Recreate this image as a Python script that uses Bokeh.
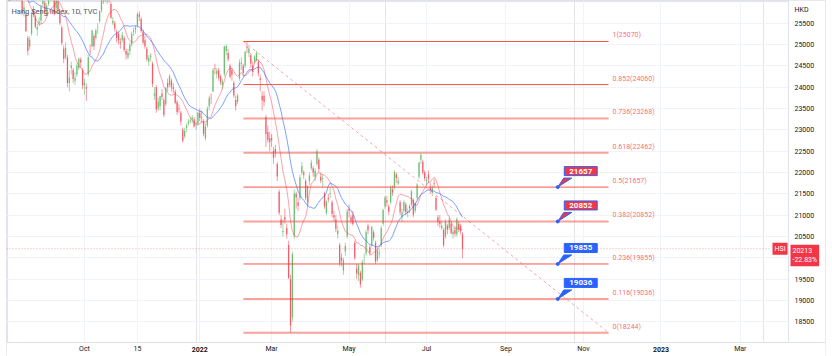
import pandas as pd
from bokeh.plotting import figure
from bokeh.models import Range1d, FixedTicker, Label, ColumnDataSource, LinearAxis, Grid
from bokeh.embed import file_html
from bokeh.resources import INLINE

# ---------------- data (daily bars, index 0 = 5 Aug 2021 ... 241 = 29 Jul 2022) -------------
prior_closes = [27153, 27344, 27515, 27788, 27962, 27997, 27996, 27489, 27259, 27224,
                27705, 27321, 26192, 25086, 25473, 26316, 25961, 26235, 26194, 26426]

opens = [26300, 26240, 26150, 26300, 26620, 26560, 26480, 26350, 26050, 25800,
         25700, 25150, 24950, 25250, 25800, 25650, 25350, 25500, 25560, 25950,
         25980, 25800, 25950, 26200, 26300, 26100, 25850, 26000, 25700, 25400,
         24900, 24700, 24700, 24100, 24450, 24400, 24150, 24300, 24450, 24650,
         24400, 24050, 24000, 24300, 24850, 24950, 25200, 25150, 25400, 25550,
         25800, 26100, 26100, 26050, 26150, 25950, 25500, 25500, 25300, 25250,
         25050, 25100, 25150, 24850, 24700, 24850, 25000, 25300, 25350, 25450,
         25700, 25600, 25300, 25100, 24900, 24600, 24700, 24550, 23800, 24000,
         23500, 23550, 23850, 23700, 23600, 24100, 24050, 24150, 24000, 23900,
         23650, 23500, 23400, 23000, 22850, 23050, 23150, 23200, 23250, 23250,
         23100, 23150, 23400, 23300, 23200, 22800, 23100, 23550, 23750, 23900,
         24450, 24300, 24400, 24250, 24050, 24300, 24850, 24800, 24500, 24400,
         24100, 23700, 23650, 24200, 24550, 24500, 24500, 24950, 24800, 24750,
         24500, 24600, 24650, 24600, 24200, 23800, 23800, 23300, 22950, 22800,
         22800, 22500, 22550, 22200, 21550, 20900, 20600, 20950, 20700, 20300,
         19500, 18600, 20500, 21500, 21300, 21400, 22000, 22000, 21800, 21300,
         21800, 22100, 22100, 21900, 22200, 22300, 21900, 21850, 21500, 21050,
         21400, 21500, 21300, 21000, 20900, 20550, 20300, 20000, 19700, 20150,
         20500, 21150, 20950, 21000, 20350, 19750, 19600, 19650, 19500, 19950,
         20100, 20750, 20250, 20300, 20600, 20350, 19950, 20100, 20300, 20800,
         21200, 21350, 21200, 21300, 21600, 21650, 21950, 21750, 21300, 20950,
         21100, 21250, 21050, 21200, 21250, 21350, 21100, 21400, 21900, 22300,
         22250, 22000, 21800, 21950, 21650, 21550, 21750, 21400, 20950, 20850,
         20700, 20650, 20500, 20750, 20700, 20800, 20550, 20650, 20550, 20800,
         20750, 20550]

highs = [26380, 26330, 26320, 26640, 26760, 26600, 26520, 26420, 26100, 26000,
         25760, 25200, 25190, 25760, 25900, 25700, 25480, 25640, 25930, 26130,
         26020, 25960, 26200, 26390, 26400, 26150, 26250, 26050, 25800, 25450,
         24980, 25050, 24750, 24390, 24600, 24450, 24350, 24560, 24700, 24700,
         24450, 24200, 24080, 24750, 25000, 25350, 25250, 25370, 25500, 25800,
         26150, 26200, 26230, 26200, 26250, 26000, 25650, 25550, 25350, 25300,
         25150, 25300, 25200, 24900, 24900, 25050, 25300, 25400, 25450, 25750,
         25780, 25650, 25350, 25200, 24950, 24750, 24800, 24600, 24000, 24050,
         23750, 23800, 23950, 23750, 24000, 24200, 24300, 24200, 24100, 23950,
         23700, 23600, 23450, 23050, 23050, 23150, 23250, 23300, 23350, 23300,
         23200, 23420, 23500, 23450, 23250, 23150, 23550, 23800, 23850, 24450,
         24550, 24450, 24450, 24300, 24200, 24970, 25000, 24900, 24550, 24450,
         24150, 23800, 23850, 24650, 24700, 24550, 24850, 25070, 24950, 24800,
         24600, 24750, 24850, 24650, 24300, 23900, 23900, 23350, 23100, 22950,
         22900, 22600, 22650, 22250, 21600, 21000, 20900, 21150, 20800, 20400,
         19600, 20150, 21600, 21550, 21400, 21950, 22250, 22050, 21850, 21700,
         22000, 22300, 22150, 22100, 22550, 22350, 22000, 21950, 21550, 21350,
         21500, 21650, 21350, 21100, 21000, 20750, 20350, 20100, 20000, 20350,
         21150, 21250, 21000, 21100, 20400, 19850, 19850, 19700, 19950, 20100,
         20650, 20800, 20300, 20750, 20650, 20400, 20250, 20200, 20750, 21150,
         21450, 21450, 21250, 21700, 21700, 22050, 22000, 21900, 21350, 21150,
         21350, 21300, 21150, 21250, 21600, 21400, 21300, 21750, 22250, 22450,
         22300, 22050, 21900, 22050, 21750, 21700, 21850, 21450, 21000, 21000,
         20850, 20700, 20900, 20800, 20950, 20850, 20700, 20750, 20950, 20850,
         20800, 20600]

lows = [26120, 26100, 26080, 26280, 26560, 26420, 26330, 26130, 25700, 25650,
        25290, 24748, 24880, 25200, 25640, 25380, 25200, 25420, 25480, 25900,
        25700, 25680, 25900, 26150, 26180, 25680, 25800, 25760, 25450, 24980,
        24560, 24650, 24000, 23900, 24300, 24100, 24050, 24240, 24400, 24450,
        23950, 23820, 23680, 24250, 24750, 24930, 24870, 25100, 25250, 25500,
        25750, 25950, 25990, 25950, 25980, 25600, 25450, 25300, 25050, 25000,
        24900, 25050, 24830, 24650, 24650, 24750, 24950, 25200, 25250, 25400,
        25550, 25280, 25000, 24900, 24600, 24500, 24600, 24000, 23700, 23400,
        23450, 23450, 23700, 23300, 23550, 23900, 24000, 23900, 23850, 23600,
        23350, 23400, 23100, 22700, 22800, 22950, 23100, 23150, 23150, 23050,
        23000, 23100, 23200, 23150, 22850, 22750, 23050, 23450, 23600, 23880,
        24300, 24200, 24150, 24050, 23950, 24250, 24750, 24600, 24200, 24150,
        23750, 23450, 23600, 24150, 24400, 24250, 24450, 24800, 24700, 24450,
        24250, 24550, 24600, 24250, 23900, 23450, 23550, 22600, 22700, 22500,
        22600, 22200, 22350, 21800, 21000, 20700, 20500, 20800, 20450, 19500,
        18244, 18500, 20450, 21150, 21100, 21350, 21950, 21850, 21350, 21200,
        21700, 22050, 21900, 21800, 22150, 22000, 21750, 21650, 21150, 21000,
        21300, 21400, 20950, 20850, 20600, 20450, 19800, 19800, 19600, 20050,
        20450, 20950, 20800, 20750, 19950, 19500, 19450, 19300, 19450, 19850,
        20050, 20550, 20050, 20250, 20400, 19850, 19900, 20000, 20250, 20750,
        21150, 21200, 21000, 21250, 21450, 21600, 21750, 21700, 21000, 20850,
        21050, 21000, 20950, 21050, 21200, 20950, 21050, 21350, 21850, 22200,
        21950, 21800, 21700, 21750, 21500, 21450, 21650, 21100, 20750, 20700,
        20650, 20250, 20450, 20550, 20650, 20550, 20450, 20500, 20500, 20600,
        20550, 19980]

closes = [26204, 26179, 26283, 26605, 26660, 26517, 26391, 26181, 25745, 25867,
          25316, 24849, 25109, 25727, 25693, 25415, 25407, 25539, 25879, 26028,
          25761, 25902, 26163, 26353, 26321, 25717, 26205, 25813, 25502, 25034,
          24668, 24920, 24099, 24221, 24510, 24192, 24208, 24500, 24663, 24576,
          24036, 24104, 23966, 24701, 24838, 25325, 24962, 25331, 25409, 25787,
          26136, 26017, 26126, 26132, 26038, 25628, 25555, 25377, 25154, 25100,
          25025, 25225, 24870, 24763, 24813, 24996, 25247, 25327, 25390, 25713,
          25650, 25319, 25049, 24951, 24652, 24685, 24740, 24080, 23852, 23475,
          23659, 23789, 23767, 23349, 23983, 23996, 24254, 23995, 23954, 23635,
          23420, 23475, 23193, 22744, 22971, 23102, 23193, 23224, 23280, 23086,
          23112, 23398, 23275, 23289, 22907, 23072, 23493, 23746, 23739, 24403,
          24430, 24383, 24218, 24113, 24127, 24952, 24966, 24656, 24244, 24290,
          23807, 23551, 23802, 24573, 24580, 24329, 24830, 24925, 24906, 24556,
          24355, 24718, 24792, 24328, 24170, 23690, 23660, 22902, 22767, 22713,
          22761, 22344, 22467, 21906, 21057, 20766, 20628, 20890, 20554, 19531,
          18415, 20088, 21501, 21412, 21222, 21889, 22154, 21946, 21405, 21684,
          21927, 22232, 21997, 22039, 22502, 22080, 21808, 21872, 21208, 21319,
          21374, 21518, 21027, 20945, 20682, 20638, 19869, 19934, 19946, 20276,
          21089, 21101, 20870, 20793, 20001, 19633, 19824, 19380, 19898, 19950,
          20602, 20644, 20120, 20717, 20470, 19912, 20171, 20116, 20697, 21123,
          21415, 21294, 21082, 21653, 21531, 22014, 21869, 21806, 21067, 21067,
          21308, 21075, 21075, 21163, 21559, 21008, 21273, 21719, 22229, 22418,
          21996, 21860, 21830, 21853, 21587, 21643, 21725, 21124, 20845, 20797,
          20751, 20297, 20846, 20661, 20890, 20575, 20610, 20563, 20906, 20670,
          20622, 20213]

fib_ratios = ["1", "0.852", "0.736", "0.618", "0.5", "0.382", "0.236", "0.116", "0"]
fib_levels = [25070, 24060, 23268, 22462, 21657, 20852, 19855, 19036, 18244]
fib_from_bar = 125.1
fib_to_bar = 318.3

callout_levels = [21657, 20852, 19855, 19036]
callout_kind = ["red", "red", "blue", "blue"]
callout_bar = 291.4

price_ticks = list(range(18500, 26000, 500))
time_ticks = [41, 69, 102, 140, 181, 222, 264, 305, 346, 388]
time_labels = ["Oct", "15", "2022", "Mar", "May", "Jul", "Sep", "Nov", "2023", "Mar"]
bold_labels = {"2022", "2023"}

symbol = "HSI"
last_price = 20213
last_change = "-22.83%"
title_text = "Hang Seng Index, 1D, TVC"
currency = "HKD"

# ---------------- layout (pixel geometry of the screenshot) ----------------
W, H = 832, 356
LEFT, RIGHT_EDGE = 6, 825          # frame spans the whole chart box incl. price column
AXIS_X, AXIS_Y = 788, 341.5        # price-axis line, time-axis line (pixels)
PX_PER_BAR = 1.89
PT_PER_PX = 23.44
X0 = -0.265
Y1 = 26031
XPP = 1.0 / PX_PER_BAR
YPP = PT_PER_PX
X1 = X0 + (RIGHT_EDGE - LEFT) * XPP
Y0 = Y1 - H * YPP


def sx(px):
    return X0 + (px - LEFT) * XPP


def sy(py):
    return Y1 - py * YPP


RED = "#f23645"
FIBRED = "#f44336"
GREEN = "#4caf50"
BLUE = "#2962ff"
FONT = "Roboto"
TXT = "#131722"
GRID = "#f0f3fa"
EDGE = "#e0e3eb"

p = figure(width=W, height=H, output_backend="svg", toolbar_location=None,
           x_range=Range1d(X0, X1), y_range=Range1d(Y0, Y1),
           x_axis_location=None, y_axis_location=None,
           min_border_left=LEFT, min_border_right=W - RIGHT_EDGE,
           min_border_top=0, min_border_bottom=0)
p.background_fill_color = "white"
p.border_fill_color = "white"
p.outline_line_color = EDGE

yticker = FixedTicker(ticks=price_ticks)
xticker = FixedTicker(ticks=time_ticks)
p.add_layout(Grid(dimension=0, ticker=xticker, grid_line_color=GRID))
p.add_layout(Grid(dimension=1, ticker=yticker, grid_line_color=GRID))

# white price column and time strip (hide grid there)
p.quad(left=sx(AXIS_X), right=X1, bottom=Y0, top=Y1, fill_color="white", line_color=None)
p.quad(left=X0, right=X1, bottom=Y0, top=sy(AXIS_Y), fill_color="white", line_color=None)

yaxis = LinearAxis(ticker=yticker, fixed_location=sx(AXIS_X), bounds=(sy(AXIS_Y), Y1),
                   major_tick_line_color=None, minor_tick_line_color=None,
                   major_tick_out=0, major_tick_in=0, minor_tick_out=0, minor_tick_in=0,
                   axis_line_color=EDGE, major_label_text_font_size="7px",
                   major_label_text_font=FONT, major_label_text_color=TXT,
                   major_label_standoff=6)
p.add_layout(yaxis, "right")
xaxis = LinearAxis(ticker=xticker, fixed_location=sy(AXIS_Y),
                   major_label_overrides={t: ("" if l in bold_labels else l)
                                          for t, l in zip(time_ticks, time_labels)},
                   major_tick_line_color=None, minor_tick_line_color=None,
                   major_tick_out=0, major_tick_in=0, minor_tick_out=0, minor_tick_in=0,
                   axis_line_color=EDGE, major_label_text_font_size="7px",
                   major_label_text_font=FONT, major_label_text_color=TXT,
                   major_label_standoff=3)
p.add_layout(xaxis, "below")

# ---------------- candles ----------------
idx = list(range(len(closes)))
df = pd.DataFrame(dict(x=idx, o=opens, h=highs, l=lows, c=closes))
df["top"] = df[["o", "c"]].max(axis=1)
df["bot"] = df[["o", "c"]].min(axis=1)
up = df[df.c >= df.o]
dn = df[df.c < df.o]
for part, col in ((up, GREEN), (dn, RED)):
    src = ColumnDataSource(part)
    p.segment(x0="x", x1="x", y0="l", y1="h", source=src, line_color=col,
              line_alpha=0.5, line_width=1)
    p.vbar(x="x", width=0.7, top="top", bottom="bot", source=src,
           fill_color=col, line_color=None, fill_alpha=0.65)

# ---------------- moving averages ----------------
allc = pd.Series(prior_closes + closes)
n0 = len(prior_closes)
ma_fast = allc.rolling(10).mean().values[n0:]
ma_slow = allc.rolling(20).mean().values[n0:]
p.line(idx, ma_fast, line_color=RED, line_alpha=0.45, line_width=1)
p.line(idx, ma_slow, line_color=BLUE, line_alpha=0.6, line_width=1)

# ---------------- fibonacci retracement ----------------
fib_alpha = [0.9, 0.9, 0.5, 0.5, 0.9, 0.5, 0.9, 0.5, 0.5]
fib_width = [1.0, 1.0, 2.0, 2.0, 1.0, 2.0, 1.0, 2.0, 2.0]
for lev, a, w in zip(fib_levels, fib_alpha, fib_width):
    p.segment(x0=fib_from_bar, x1=fib_to_bar, y0=lev, y1=lev,
              line_color=FIBRED, line_alpha=a, line_width=w)
p.segment(x0=fib_from_bar, y0=fib_levels[0], x1=fib_to_bar, y1=fib_levels[-1],
          line_color=RED, line_alpha=0.45, line_width=1, line_dash="3 3")
fib_txt = [f"{r}({v})" for r, v in zip(fib_ratios, fib_levels)]
p.text(x=[sx(612)] * len(fib_levels), y=fib_levels, text=fib_txt,
       text_font_size="7px", text_color=RED, text_alpha=0.75,
       text_baseline="bottom", text_align="left", y_offset=-2,
       text_font={"value": FONT})

# ---------------- callouts ----------------
for lev, kind in zip(callout_levels, callout_kind):
    col = RED if kind == "red" else BLUE
    ax = callout_bar
    tri_x = [ax, ax + 6 * XPP, ax + 14 * XPP]
    tri_y = [lev, lev + 9 * YPP, lev + 9 * YPP]
    p.patch(tri_x, tri_y, fill_color=col, line_color=BLUE, line_width=1)
    p.scatter([ax], [lev], size=3, color=BLUE)
    p.add_layout(Label(x=ax, y=lev, x_offset=23, y_offset=16, text=str(lev),
                       text_align="center", text_baseline="middle",
                       text_color="white", text_font_style="bold",
                       text_font_size="8px", text_font=FONT,
                       background_fill_color=col, border_line_color=BLUE,
                       border_line_width=1, padding=(5, 2)))

# ---------------- last price ----------------
p.segment(x0=X0, x1=sx(771), y0=last_price, y1=last_price, line_color=RED,
          line_alpha=0.45, line_width=1, line_dash="1 2")
p.add_layout(Label(x=sx(772), y=last_price, text=symbol, text_align="left",
                   text_baseline="middle", text_color="white", text_font_size="7px",
                   text_font=FONT, background_fill_color=RED, padding=2))
p.add_layout(Label(x=sx(790), y=last_price, y_offset=4,
                   text=f"{last_price}\n{last_change}", text_align="left",
                   text_baseline="top", text_color="white", text_font_size="7px",
                   text_font=FONT, background_fill_color=RED, padding=2))

# ---------------- texts ----------------
p.add_layout(Label(x=sx(11), y=sy(11), text=title_text, text_baseline="middle",
                   text_font_size="7.5px", text_font=FONT, text_color="#50535e"))
p.add_layout(Label(x=sx(794), y=sy(9), text=currency, text_baseline="middle",
                   text_font_size="7px", text_font=FONT, text_color=TXT))
for t, l in zip(time_ticks, time_labels):
    if l in bold_labels:
        p.add_layout(Label(x=t, y=sy(349), text=l, text_align="center",
                           text_baseline="middle", text_font_size="7px",
                           text_font=FONT, text_font_style="bold", text_color=TXT))

open("out.html", "w").write(file_html(p, INLINE))
